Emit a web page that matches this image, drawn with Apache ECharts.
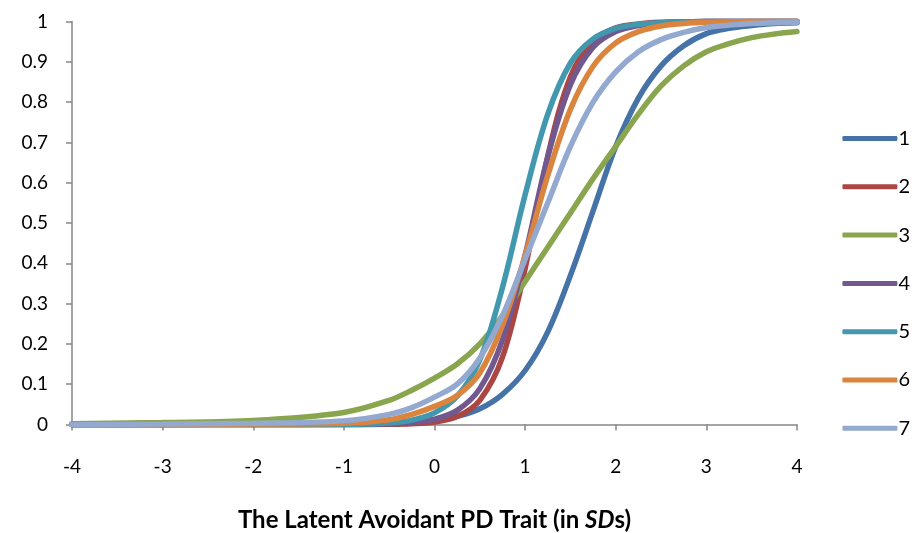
<!DOCTYPE html>
<html>
<head>
<meta charset="utf-8">
<script src="https://cdn.jsdelivr.net/npm/echarts@6/dist/echarts.min.js"></script>
<style>
  html, body { margin: 0; padding: 0; background: #fff; }
  #chart { width: 917px; height: 533px; }
</style>
</head>
<body>
<div id="chart"></div>
<script>
// theta values (in SDs) where the curves were read
const xs = [-4, -3, -2, -1, -0.5, -0.25, 0, 0.25, 0.5, 0.75, 1, 1.25, 1.5, 1.75, 2, 2.25, 2.5, 2.75, 3, 3.25, 3.5, 3.75, 4];

// probability
const item1 = [0, 0.0002, 0.0005, 0.001, 0.003, 0.006, 0.011, 0.02, 0.039, 0.075, 0.134, 0.23, 0.37, 0.53, 0.69, 0.81, 0.89, 0.94, 0.97, 0.983, 0.99, 0.995, 0.997];
const item2 = [0, 0, 0, 0.0001, 0.0006, 0.002, 0.0063, 0.0196, 0.06, 0.167, 0.387, 0.666, 0.863, 0.952, 0.984, 0.994, 0.998, 0.999, 1, 1, 1, 1, 1];
const item3 = [0.002, 0.005, 0.01, 0.03, 0.06, 0.085, 0.115, 0.15, 0.2, 0.27, 0.355, 0.44, 0.525, 0.61, 0.69, 0.77, 0.84, 0.89, 0.925, 0.945, 0.96, 0.969, 0.975];
const item4 = [0, 0, 0, 0.0003, 0.0018, 0.005, 0.013, 0.035, 0.089, 0.21, 0.42, 0.664, 0.843, 0.936, 0.975, 0.99, 0.997, 0.999, 1, 1, 1, 1, 1];
const item5 = [0, 0, 0, 0.0007, 0.004, 0.011, 0.029, 0.07, 0.16, 0.34, 0.57, 0.77, 0.897, 0.957, 0.983, 0.993, 0.997, 0.999, 1, 1, 1, 1, 1];
const item6 = [0, 0, 0.001, 0.003, 0.012, 0.025, 0.045, 0.072, 0.128, 0.246, 0.42, 0.618, 0.782, 0.889, 0.947, 0.975, 0.989, 0.995, 0.998, 0.999, 1, 1, 1];
const item7 = [0, 0.001, 0.003, 0.009, 0.025, 0.042, 0.068, 0.1, 0.165, 0.27, 0.41, 0.55, 0.69, 0.8, 0.875, 0.925, 0.955, 0.973, 0.985, 0.991, 0.995, 0.997, 0.998];

const names = ['1', '2', '3', '4', '5', '6', '7'];
const colors = ['#4572A7', '#AA4643', '#89A54E', '#71588F', '#4198AF', '#DB843D', '#93A9CF'];
const allItems = [item1, item2, item3, item4, item5, item6, item7];

const font = 'Lato, "Open Sans", sans-serif';

let chart = echarts.init(document.getElementById('chart'));

let option = {
    animation: false,
    textStyle: { fontFamily: font },
    grid: {
        left: 72,
        right: 120,
        top: 21.5,
        bottom: 108.5,
        outerBoundsMode: 'none'
    },
    legend: {
        orient: 'vertical',
        right: 2,
        top: 123,
        icon: 'roundRect',
        itemWidth: 55,
        itemHeight: 5,
        itemGap: 27.3,
        textStyle: { fontSize: 20, color: '#000', lineHeight: 21, padding: [0, 0, 0, -4] },
        data: names
    },
    xAxis: {
        type: 'value',
        min: -4,
        max: 4,
        interval: 1,
        splitLine: { show: false },
        axisLine: { onZero: false, lineStyle: { color: '#868686', width: 1.5 } },
        axisTick: { length: 6, lineStyle: { color: '#868686', width: 1.5 } },
        axisLabel: { margin: 33, fontSize: 19, color: '#000' },
        name: '{b|The Latent Avoidant PD Trait (in }{i|SD}{b|s)}',
        nameLocation: 'middle',
        nameGap: 84,
        nameTextStyle: {
            rich: {
                b: { fontSize: 24, fontWeight: 'bold', color: '#000', fontFamily: font },
                i: { fontSize: 24, fontWeight: 'bold', fontStyle: 'italic', color: '#000', fontFamily: font }
            }
        }
    },
    yAxis: {
        type: 'value',
        min: 0,
        max: 1,
        interval: 0.1,
        splitLine: { show: false },
        axisLine: { show: true, onZero: false, lineStyle: { color: '#868686', width: 1.5 } },
        axisTick: { show: true, length: 6, lineStyle: { color: '#868686', width: 1.5 } },
        axisLabel: { margin: 24, fontSize: 19, color: '#000' }
    },
    series: allItems.map((vals, i) => ({
        name: names[i],
        type: 'line',
        smooth: 0.35,
        symbol: 'none',
        clip: false,
        color: colors[i],
        lineStyle: { width: 5.5, color: colors[i], cap: 'round' },
        data: xs.map((x, j) => [x, vals[j]])
    }))
};

chart.setOption(option);
</script>
</body>
</html>
